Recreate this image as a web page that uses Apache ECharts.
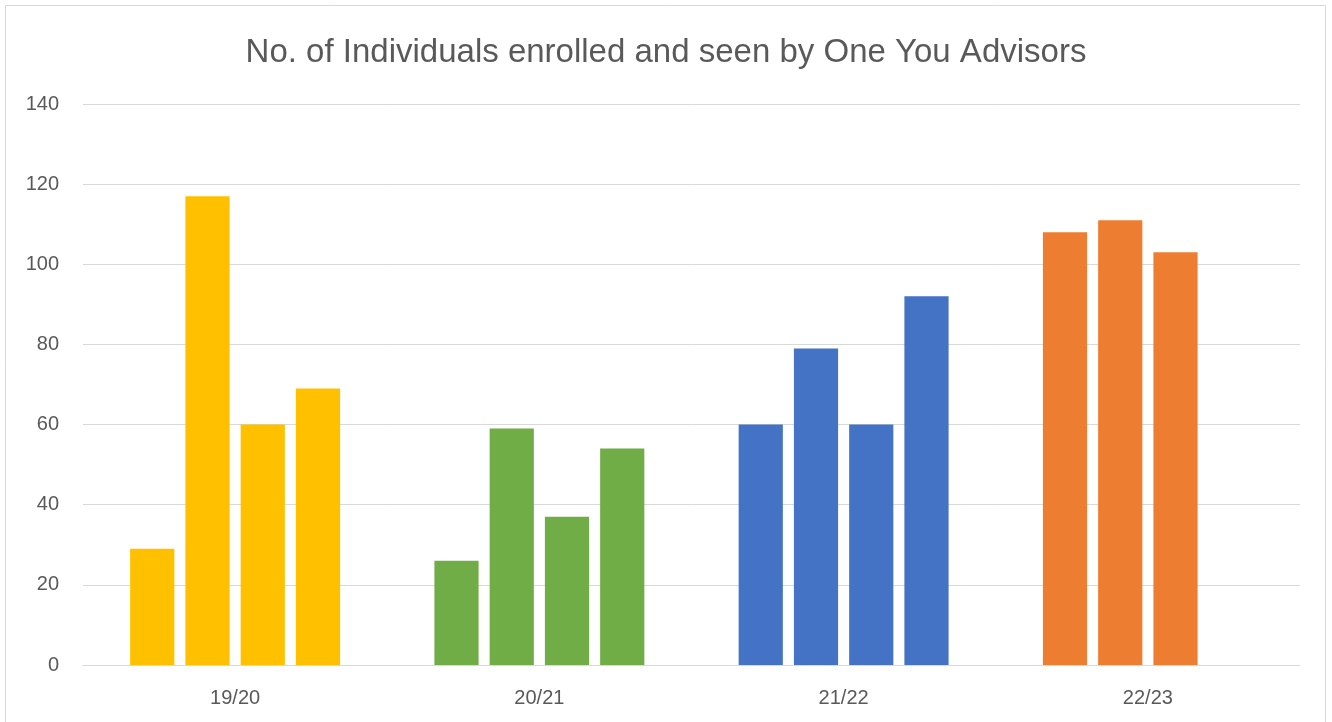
<!DOCTYPE html>
<html>
<head>
<meta charset="utf-8">
<script src="https://cdn.jsdelivr.net/npm/echarts@6/dist/echarts.min.js"></script>
<style>
  html, body { margin: 0; padding: 0; background: #fff; }
  #chart { width: 1332px; height: 722px; }
</style>
</head>
<body>
<div id="chart"></div>
<script>
// data
var years = ['19/20', '20/21', '21/22', '22/23'];
var q1 = [29, 26, 60, 108];
var q2 = [117, 59, 79, 111];
var q3 = [60, 37, 60, 103];
var q4 = [69, 54, 92, null];
var yearColors = ['#FFC000', '#70AD47', '#4472C4', '#ED7D31'];
var yTicks = { min: 0, max: 140, step: 20 };

var textColor = '#595959';
var font = 'Liberation Sans';

function barSeries(values) {
	return {
		type: 'bar',
		data: values,
		barGap: '25%',
		barCategoryGap: '31%',
		itemStyle: {
			color: function (p) { return yearColors[p.dataIndex]; }
		}
	};
}

var chart = echarts.init(document.getElementById('chart'));
chart.setOption({
	animation: false,
	title: {
		text: 'No. of Individuals enrolled and seen by One You Advisors',
		left: 'center',
		top: 31,
		textStyle: { color: textColor, fontFamily: font, fontSize: 33, fontWeight: 'normal' }
	},
	graphic: [{
		type: 'rect',
		shape: { x: 5.5, y: 5.5, width: 1320, height: 730 },
		style: { fill: null, stroke: '#d9d9d9', lineWidth: 1 },
		silent: true
	}],
	grid: { left: 83, right: 32, top: 104, bottom: 57 },
	xAxis: {
		type: 'category',
		data: years,
		axisTick: { show: false },
		axisLine: { lineStyle: { color: '#d9d9d9', width: 1 } },
		axisLabel: { color: textColor, fontFamily: font, fontSize: 20, margin: 23 }
	},
	yAxis: {
		type: 'value',
		min: yTicks.min,
		max: yTicks.max,
		interval: yTicks.step,
		axisLine: { show: false },
		axisTick: { show: false },
		splitLine: { lineStyle: { color: '#d9d9d9', width: 1 } },
		axisLabel: { color: textColor, fontFamily: font, fontSize: 20, margin: 24 }
	},
	series: [barSeries(q1), barSeries(q2), barSeries(q3), barSeries(q4)]
});
</script>
</body>
</html>
